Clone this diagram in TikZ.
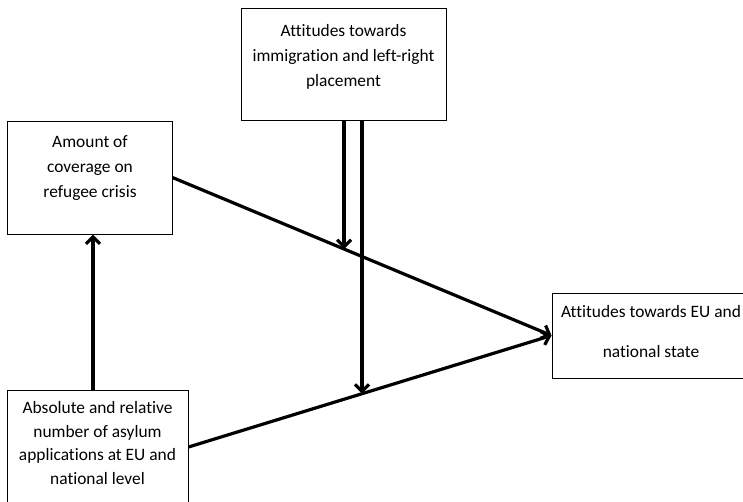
\documentclass[tikz,border=0pt]{standalone}
\usepackage{fontspec}
\setmainfont{Carlito}[Ligatures=NoCommon]
\usetikzlibrary{arrows.meta}
\usetikzlibrary{positioning}
\newcommand{\boxfont}{\fontsize{17.4}{25}\selectfont}
\tikzset{
    box/.style={draw, rectangle, line width=1pt, inner sep=0pt},
    boxtext/.style={align=center, inner sep=0pt, font=\boxfont},
    link/.style={line width=3.2pt, -{Straight Barb[length=7pt, width=14pt, line width=3.2pt]}}
}

\begin{document}
\begin{tikzpicture}[x=1pt, y=-1pt]
    \useasboundingbox (0,0) rectangle (743,501);

    % boxes
    \node[box, minimum width=205pt, minimum height=112pt] (att) at (343.5,64) {};
    \node[box, minimum width=165pt, minimum height=113pt] (cov) at (89.5,177.5) {};
    \node[box, minimum width=181pt, minimum height=114pt] (asy) at (97.5,447) {};
    \node[box, minimum width=198pt, minimum height=85pt] (eu) at (651,335.5) {};

    % texts
    \node[boxtext] (attText) at (343.5,57) {Attitudes towards\\immigration and left-right\\placement};
    \node[boxtext] (covText) at (90,168) {Amount of\\coverage on\\refugee crisis};
    \node[boxtext, font=\fontsize{17.4}{23.5}\selectfont] (asyText) at (97.5,443) {Absolute and relative\\number of asylum\\applications at EU and\\national level};
    \node[boxtext, font=\fontsize{17.4}{40}\selectfont] (euText) at (651,332) {Attitudes towards EU and\\national state};

    % links
    \draw[link] (cov.east) -- (eu.west) coordinate[pos=0.4526] (m1);
    \draw[link] (asy.east) -- (eu.west) coordinate[pos=0.478] (m2);
    \draw[link] ([xshift=-4.5pt]asy.north) -- ([xshift=-4.5pt]asy.north |- cov.south);
    \draw[link] (att.south -| m1) -- (m1);
    \draw[link] (att.south -| m2) -- (m2);
\end{tikzpicture}
\end{document}
